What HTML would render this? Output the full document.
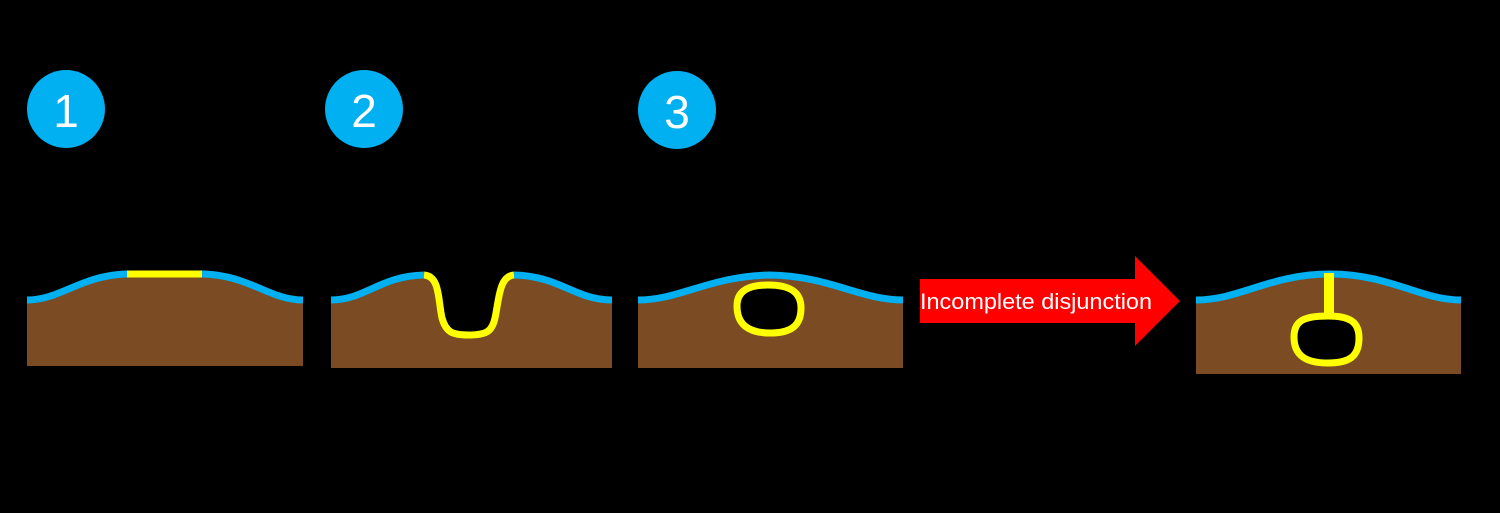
<!DOCTYPE html>
<html><head><style>html,body{margin:0;padding:0;background:#000;}svg{display:block}</style></head>
<body>
<svg width="1500" height="513" viewBox="0 0 1500 513" xmlns="http://www.w3.org/2000/svg">
<rect width="1500" height="513" fill="#000"/>
<g fill="#00b0f0">
<circle cx="66" cy="109" r="39"/><circle cx="364" cy="109" r="39"/><circle cx="677" cy="110" r="39"/>
</g>
<g fill="#fff" font-family="Liberation Sans, sans-serif" font-size="46" text-anchor="middle">
<text x="66" y="127">1</text><text x="364" y="127">2</text><text x="677" y="128">3</text>
</g>
<path d="M27,300 C60,300 80,276 125,274 L205,274 C250,276 270,300 303,300 L303,366 L27,366 Z" fill="#7b4c24"/>
<path d="M27,300 C60,300 80,276 125,274 L205,274 C250,276 270,300 303,300" fill="none" stroke="#00b0f0" stroke-width="7"/>
<line x1="127" y1="274" x2="202" y2="274" stroke="#ff0" stroke-width="7"/>
<path d="M331,300 C365,300 380,276 424,275 C440,276 438,300 442,318 C446,332 452,335 468,335 C486,335 492,332 495,318 C499,300 499,276 514,275 C560,276 575,300 612,300 L612,368 L331,368 Z" fill="#7b4c24"/>
<path d="M331,300 C365,300 380,276 424,275 M514,275 C560,276 575,300 612,300" fill="none" stroke="#00b0f0" stroke-width="7"/>
<path d="M424,275 C440,276 438,300 442,318 C446,332 452,335 468,335 C486,335 492,332 495,318 C499,300 499,276 514,275" fill="none" stroke="#ff0" stroke-width="7"/>
<path d="M638,300 C680,300 710,276 770,275 C830,276 860,300 903,300 L903,368 L638,368 Z" fill="#7b4c24"/>
<path d="M638,300 C680,300 710,276 770,275 C830,276 860,300 903,300" fill="none" stroke="#00b0f0" stroke-width="7"/>
<path d="M737,306 C737,290 750,285 768,285 C790,285 801,292 801,308 C801,325 792,333 770,333 C748,333 737,324 737,306 Z" fill="#000" stroke="#ff0" stroke-width="7"/>
<path d="M920,279 L1135,279 L1135,256 L1180,301 L1135,346 L1135,323 L920,323 Z" fill="#f00"/>
<text x="920" y="309" fill="#fff" font-family="Liberation Sans, sans-serif" font-size="22" textLength="232" lengthAdjust="spacingAndGlyphs">Incomplete disjunction</text>
<path d="M1196,300 C1240,300 1270,274 1330,274 C1390,274 1420,300 1461,300 L1461,374 L1196,374 Z" fill="#7b4c24"/>
<path d="M1196,300 C1240,300 1270,274 1330,274 C1390,274 1420,300 1461,300" fill="none" stroke="#00b0f0" stroke-width="7"/>
<rect x="1324" y="273" width="10" height="42" fill="#ff0"/>
<path d="M1294,337 C1294,320 1305,316 1328,316 C1350,316 1359,322 1359,338 C1359,356 1350,363 1328,363 C1305,363 1294,355 1294,337 Z" fill="#000" stroke="#ff0" stroke-width="7"/>
</svg>
</body></html>
